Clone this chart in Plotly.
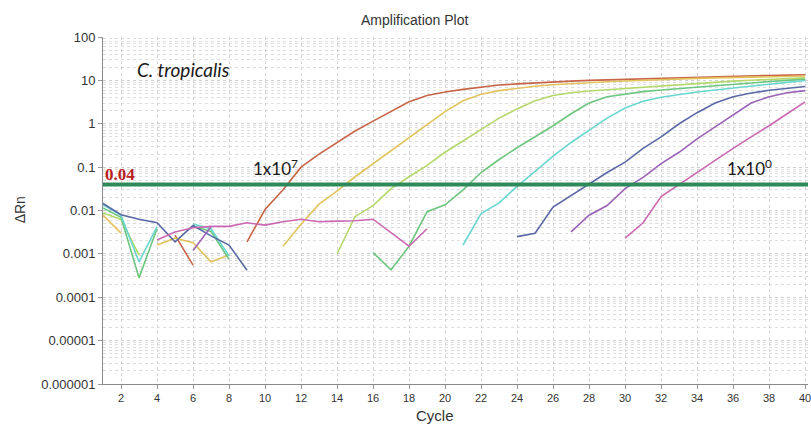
import math
import plotly.graph_objects as go

# qPCR amplification data (delta Rn per cycle); None = not plotted (non-positive values on log scale)
N = None
cycles = list(range(1, 41))

dilution_labels = ["1x10^7", "1x10^6", "1x10^5", "1x10^4", "1x10^3", "1x10^2", "1x10^1", "1x10^0"]

rn_1e7 = [N, N, N, N, 0.0027, 0.00055, N, N, 0.0019, 0.0105,
          0.03, 0.10, 0.2, 0.37, 0.68, 1.15, 1.9, 3.2, 4.5, 5.4,
          6.2, 7.0, 7.8, 8.3, 8.8, 9.2, 9.6, 10.0, 10.3, 10.6,
          10.9, 11.2, 11.5, 11.8, 12.1, 12.4, 12.7, 13.0, 13.2, 13.5]

rn_1e6 = [0.0078, 0.0030, N, 0.0016, 0.0023, 0.0018, 0.00066, 0.00094, N, N,
          0.0015, 0.0048, 0.014, 0.028, 0.06, 0.12, 0.24, 0.48, 0.95, 1.9,
          3.4, 4.8, 5.8, 6.6, 7.3, 7.9, 8.4, 8.9, 9.3, 9.7,
          10.1, 10.5, 10.8, 11.1, 11.4, 11.7, 12.0, 12.2, 12.4, 12.6]

rn_1e5 = [0.0088, 0.0062, 0.00094, N, N, N, N, N, N, N,
          N, N, N, 0.001, 0.0072, 0.013, 0.032, 0.06, 0.11, 0.22,
          0.4, 0.75, 1.35, 2.2, 3.4, 4.5, 5.2, 5.7, 6.1, 6.6,
          7.1, 7.6, 8.1, 8.6, 9.1, 9.6, 10.1, 10.6, 11.0, 11.4]

rn_1e4 = [0.0115, 0.0070, 0.00028, 0.0038, N, 0.0044, 0.0033, 0.00075, N, N,
          N, N, N, N, N, 0.00107, 0.00043, 0.0015, 0.0094, 0.0135,
          0.03, 0.075, 0.15, 0.28, 0.5, 0.9, 1.7, 3.0, 4.2, 4.9,
          5.5, 6.0, 6.5, 7.0, 7.6, 8.2, 8.8, 9.4, 10.0, 10.6]

rn_1e3 = [0.0135, 0.0078, 0.00065, 0.0042, N, 0.0049, 0.0038, 0.0009, N, N,
          N, N, N, N, N, N, N, N, N, N,
          0.0016, 0.0085, 0.015, 0.036, 0.08, 0.18, 0.37, 0.72, 1.35, 2.3,
          3.3, 4.1, 4.8, 5.4, 6.0, 6.7, 7.4, 8.2, 9.0, 9.9]

rn_1e2 = [0.0145, 0.0080, 0.0063, 0.0052, 0.0019, 0.0045, 0.0026, 0.0016, 0.00042, N,
          N, N, N, N, N, N, N, N, N, N,
          N, N, N, 0.0025, 0.003, 0.012, 0.022, 0.042, 0.075, 0.13,
          0.27, 0.5, 1.0, 1.8, 3.0, 4.2, 5.1, 5.9, 6.6, 7.2]

rn_1e1 = [N, N, N, N, N, 0.0012, 0.0042, N, N, N,
          N, N, N, N, N, N, N, N, N, N,
          N, N, N, N, N, N, 0.0032, 0.0078, 0.013, 0.032,
          0.058, 0.12, 0.22, 0.45, 0.85, 1.6, 3.0, 4.2, 5.2, 5.8]

rn_1e0 = [N, N, N, 0.0021, 0.0032, 0.0040, 0.0043, 0.0043, 0.0052, 0.0046,
          0.0055, 0.0063, 0.0055, 0.0057, 0.0058, 0.0063, 0.0031, 0.0015, 0.0038, N,
          N, N, N, N, N, N, N, N, N, 0.0023,
          0.0052, 0.021, 0.04, 0.073, 0.14, 0.27, 0.5, 0.9, 1.7, 3.2]

threshold = 0.04

y_tickvals = [100, 10, 1, 0.1, 0.01, 0.001, 0.0001, 0.00001, 0.000001]
y_ticktext = ["100", "10", "1", "0.1", "0.01", "0.001", "0.0001", "0.00001", "0.000001"]
x_tickvals = list(range(2, 41, 2))

series = [rn_1e7, rn_1e6, rn_1e5, rn_1e4, rn_1e3, rn_1e2, rn_1e1, rn_1e0]
colors = ["#c66548", "#e2c35c", "#b4d86a", "#6cc67e", "#6ad6d0", "#5a69a6", "#9a62b8", "#cc68b2"]

fig = go.Figure()
for name, vals, col in zip(dilution_labels, series, colors):
    fig.add_trace(go.Scatter(x=cycles, y=vals, mode="lines", name=name,
                             line=dict(color=col, width=1.6), connectgaps=False,
                             showlegend=False))

# threshold line
x_max = 40.16
fig.add_trace(go.Scatter(x=[1, x_max], y=[threshold, threshold], mode="lines",
                         line=dict(color="#2f8a5a", width=4), showlegend=False))

axis_font = dict(family="Liberation Sans, Arial, sans-serif", color="#333333")

fig.update_layout(
    width=811, height=426,
    margin=dict(l=103, r=0, t=37, b=42),
    paper_bgcolor="white", plot_bgcolor="white",
    xaxis=dict(range=[1, x_max], tickvals=x_tickvals, ticks="outside", ticklen=4,
               tickcolor="#999999", tickfont=dict(size=11, **axis_font),
               ticklabeloverflow="allow",
               showline=True, linecolor="#8a8a8a", linewidth=1, mirror=False,
               showgrid=True, gridcolor="#d4d4d4", griddash="dot", gridwidth=1,
               zeroline=False),
    yaxis=dict(type="log", range=[-6, 2], tickvals=y_tickvals, ticktext=y_ticktext,
               ticks="outside", ticklen=4, tickcolor="#999999",
               tickfont=dict(size=13, **axis_font),
               showline=True, linecolor="#8a8a8a", linewidth=1,
               showgrid=True, gridcolor="#cfcfcf", griddash="dot", gridwidth=1,
               minor=dict(dtick="D1", showgrid=True, gridcolor="#dedede",
                          griddash="dot", ticks=""),
               zeroline=False),
)

# annotation y positions on a log axis are given in log10 units
def ly(v):
    return math.log10(v)

label_font = dict(size=16, family="Lato, Open Sans, sans-serif", color="#1a1a1a")

annotations = [
    dict(text="Amplification Plot", xref="paper", yref="paper",
         x=(416 - 103) / 708, y=1 + 17 / 347, xanchor="center", yanchor="middle",
         showarrow=False, font=dict(size=14, **axis_font)),
    dict(text="Cycle", xref="paper", yref="paper",
         x=(436 - 103) / 708, y=-(415 - 384) / 347, xanchor="center", yanchor="middle",
         showarrow=False, font=dict(size=15, **axis_font)),
    dict(text="ΔRn", xref="paper", yref="paper", textangle=-90,
         x=-(103 - 20) / 708, y=(384 - 210) / 347, xanchor="center", yanchor="middle",
         showarrow=False, font=dict(size=14, **axis_font)),
    dict(text="<b>0.04</b>", xref="x", yref="y", x=1, y=ly(threshold), xanchor="left",
         yanchor="bottom", xshift=0, yshift=-2, showarrow=False,
         font=dict(size=17, family="Liberation Serif, Times New Roman, serif", color="#b8201e")),
    dict(text="<i>C. tropicalis</i>", xref="x", yref="y", x=2.77, y=ly(17.4),
         xanchor="left", yanchor="middle", showarrow=False,
         font=dict(size=19, family="Lato, Open Sans, sans-serif", color="#1a1a1a")),
    dict(text="1x10<sup>7</sup>", xref="x", yref="y", x=9.24, y=ly(0.096),
         xanchor="left", yanchor="middle", showarrow=False,
         font=dict(size=17, family="Lato, Open Sans, sans-serif", color="#1a1a1a")),
    dict(text="1x10<sup>0</sup>", xref="x", yref="y", x=35.57, y=ly(0.096),
         xanchor="left", yanchor="middle", showarrow=False,
         font=dict(size=17, family="Lato, Open Sans, sans-serif", color="#1a1a1a")),
]
fig.update_layout(annotations=annotations)

fig.write_html("out.html")
